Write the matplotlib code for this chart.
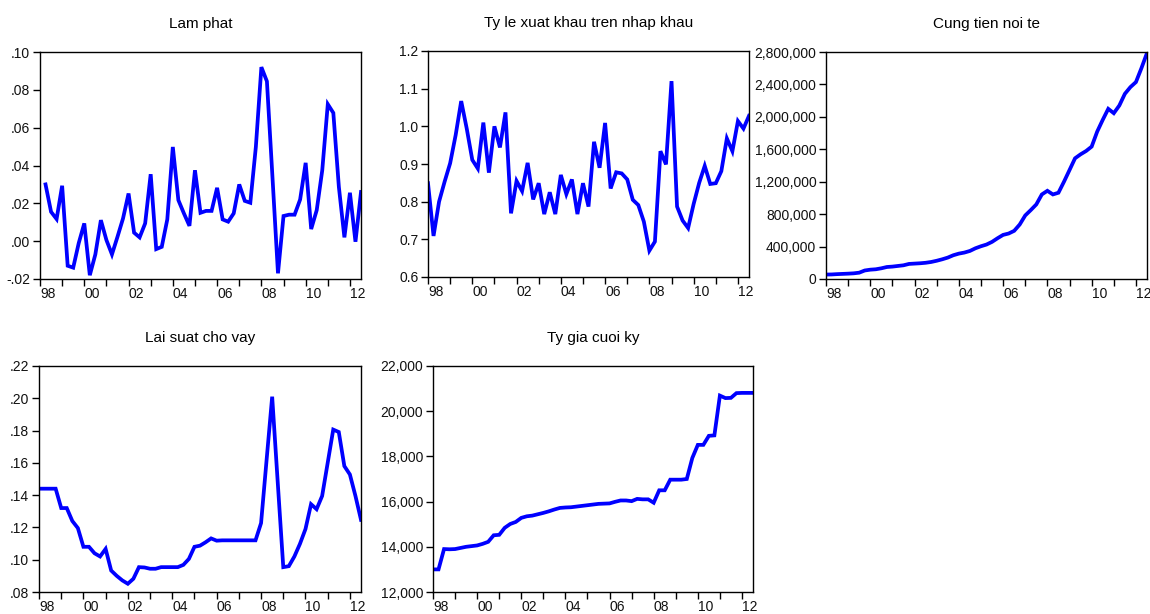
import numpy as np
import matplotlib
matplotlib.use("Agg")
import matplotlib.pyplot as plt
from matplotlib.ticker import FuncFormatter

plt.rcParams['font.family'] = ['Liberation Sans', 'DejaVu Sans']

# quarterly sample 1998Q1 - 2012Q3
years = list(range(1998, 2013))
n_obs = 59

# inflation starts one quarter later (1998Q2)
lam_phat = [0.030, 0.0155, 0.0117, 0.0293, -0.013, -0.014, -0.001, 0.0094, -0.018,
            -0.007, 0.0111, 0.0006, -0.007, 0.0023, 0.012, 0.0252, 0.0045, 0.002,
            0.0094, 0.0354, -0.0042, -0.003, 0.0115, 0.0498, 0.0217, 0.0147, 0.0081,
            0.0375, 0.015, 0.016, 0.016, 0.0282, 0.0115, 0.0103, 0.0147, 0.030,
            0.0213, 0.0203, 0.0498, 0.092, 0.0845, 0.034, -0.017, 0.0133, 0.014,
            0.014, 0.022, 0.0414, 0.0064, 0.0164, 0.0375, 0.0724, 0.0678, 0.0287,
            0.002, 0.0256, -0.0003, 0.026]

xk_nk = [0.849, 0.709, 0.800, 0.853, 0.902, 0.977, 1.067, 0.994, 0.911, 0.888,
         1.010, 0.877, 1.000, 0.944, 1.037, 0.769, 0.855, 0.828, 0.903, 0.806,
         0.849, 0.767, 0.825, 0.767, 0.871, 0.820, 0.859, 0.767, 0.849, 0.787,
         0.959, 0.890, 1.009, 0.835, 0.878, 0.875, 0.859, 0.805, 0.791, 0.747,
         0.670, 0.694, 0.934, 0.899, 1.120, 0.787, 0.750, 0.730, 0.794, 0.850,
         0.895, 0.847, 0.849, 0.881, 0.968, 0.934, 1.014, 0.994, 1.028]

cung_tien = [55e3, 56e3, 60e3, 63e3, 66e3, 70e3, 78e3, 105e3, 115e3, 120e3,
             132e3, 148e3, 153e3, 161e3, 169e3, 186e3, 190e3, 194e3, 200e3, 210e3,
             225e3, 243e3, 264e3, 293e3, 313e3, 326e3, 346e3, 379e3, 404e3, 425e3,
             458e3, 503e3, 544e3, 561e3, 594e3, 672e3, 784e3, 850e3, 920e3, 1043e3,
             1088e3, 1043e3, 1064e3, 1200e3, 1344e3, 1489e3, 1538e3, 1579e3, 1633e3,
             1818e3, 1963e3, 2099e3, 2045e3, 2140e3, 2284e3, 2367e3, 2429e3, 2602e3,
             2788e3]

lai_suat = [0.144, 0.144, 0.144, 0.144, 0.132, 0.132, 0.124, 0.1196, 0.108, 0.108,
            0.104, 0.102, 0.1067, 0.0933, 0.090, 0.0872, 0.0851, 0.0882, 0.0954,
            0.0952, 0.0944, 0.0944, 0.0954, 0.0954, 0.0954, 0.0954, 0.0968, 0.1005,
            0.108, 0.1087, 0.1108, 0.1132, 0.1118, 0.112, 0.112, 0.112, 0.112,
            0.112, 0.112, 0.112, 0.1227, 0.162, 0.201, 0.148, 0.0954, 0.096, 0.102,
            0.1098, 0.119, 0.1344, 0.1313, 0.1395, 0.160, 0.1806, 0.1791, 0.158,
            0.1528, 0.1395, 0.1247]

ty_gia = [13000, 13000, 13900, 13890, 13900, 13950, 14000, 14030, 14060, 14130,
          14220, 14510, 14530, 14840, 15010, 15100, 15280, 15350, 15380, 15440,
          15500, 15570, 15650, 15720, 15740, 15750, 15780, 15810, 15840, 15870,
          15900, 15910, 15920, 15990, 16050, 16050, 16020, 16120, 16100, 16100,
          15950, 16500, 16500, 16970, 16970, 16970, 17000, 17930, 18510, 18510,
          18910, 18930, 20690, 20580, 20590, 20800, 20810, 20810, 20810]

W, H = 1150, 614
fig = plt.figure(figsize=(W / 100, H / 100), dpi=100)


def px_axes(x0, y0, x1, y1):
    return fig.add_axes([x0 / W, 1 - y1 / H, (x1 - x0) / W, (y1 - y0) / H])


def dot_fmt(v, pos):
    s = f"{v:.2f}"
    return s.replace("0.", ".", 1)


def comma_fmt(v, pos):
    return f"{v:,.0f}"


def one_dec(v, pos):
    return f"{v:.1f}"


def draw_panel(rect, title, start, values, ylim, ystep, fmt):
    ax = px_axes(*rect)
    x = np.arange(start, start + len(values))
    ax.plot(x, values, color='#0000ff', lw=2.7, solid_joinstyle='miter')
    ax.set_xlim(0, n_obs - 1)
    ax.set_ylim(*ylim)
    ax.set_yticks(np.arange(ylim[0], ylim[1] + ystep / 2, ystep))
    ax.yaxis.set_major_formatter(FuncFormatter(fmt))
    ax.set_xticks(range(0, n_obs, 4))
    ax.set_xticklabels([str(y)[2:] if (y - 1998) % 2 == 0 else '' for y in years])
    for lab in ax.get_xticklabels():
        lab.set_ha('left')
    ax.tick_params(axis='both', direction='out', length=5, width=1,
                   labelsize=10, color='black', labelcolor='#111111', pad=2)
    ax.tick_params(axis='x', length=5, pad=0.5)
    for sp in ax.spines.values():
        sp.set_linewidth(1)
    ax.set_title(title, fontsize=11, pad=17)
    return ax


draw_panel((40, 52, 361, 279), 'Lam phat', 1, lam_phat,
           (-0.02, 0.10), 0.02, dot_fmt)
draw_panel((428, 51, 749, 277), 'Ty le xuat khau tren nhap khau', 0, xk_nk,
           (0.6, 1.2), 0.1, one_dec)
draw_panel((826, 52, 1147, 279), 'Cung tien noi te', 0, cung_tien,
           (0, 2.8e6), 4e5, comma_fmt)
draw_panel((39, 366, 361, 592), 'Lai suat cho vay', 0, lai_suat,
           (0.08, 0.22), 0.02, dot_fmt)
draw_panel((433, 366, 753, 592), 'Ty gia cuoi ky', 0, ty_gia,
           (12000, 22000), 2000, comma_fmt)

fig.savefig('out.png', dpi=100)
